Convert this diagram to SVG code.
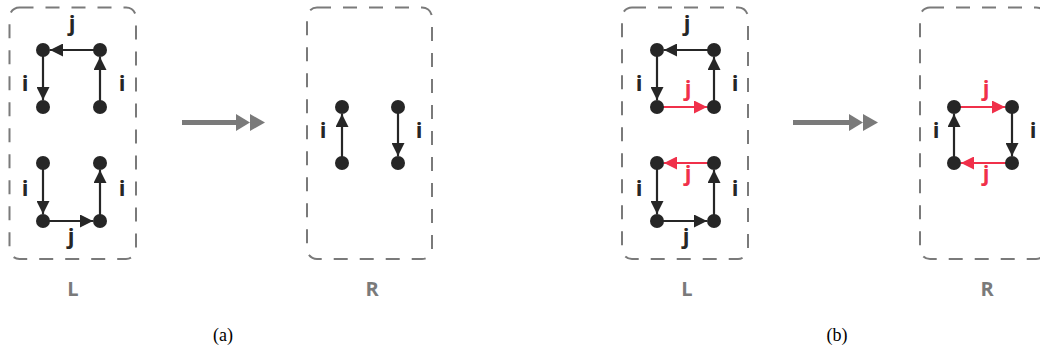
<svg xmlns="http://www.w3.org/2000/svg" width="1040" height="348" viewBox="0 0 1040 348">
<style>
.box{fill:none;stroke:#7a7a7a;stroke-width:2;stroke-dasharray:14 12}
.e{stroke:#262626;stroke-width:2.2;fill:none;marker-end:url(#ah)}
.r{stroke:#f0304a;stroke-width:2.2;fill:none;marker-end:url(#ahr)}
.n{fill:#262626}
.lb{font-family:"Open Sans","DejaVu Sans",sans-serif;font-weight:bold;font-size:22px;fill:#262626;text-anchor:middle}
.lbr{fill:#f0304a}
.side{font-family:"Open Sans","DejaVu Sans",sans-serif;font-weight:bold;font-size:20px;fill:#7a7a7a;text-anchor:middle}
.cap{font-family:"Liberation Serif",serif;font-size:18px;fill:#000;text-anchor:middle}
.big{stroke:#7a7a7a;stroke-width:5}
.bh{fill:#7a7a7a}
</style>
<defs>
<marker id="ah" markerUnits="userSpaceOnUse" markerWidth="13" markerHeight="13" refX="13" refY="6.5" orient="auto"><path d="M0,0 L13,6.5 L0,13 z" fill="#262626"/></marker>
<marker id="ahr" markerUnits="userSpaceOnUse" markerWidth="13" markerHeight="13" refX="13" refY="6.5" orient="auto"><path d="M0,0 L13,6.5 L0,13 z" fill="#f0304a"/></marker>
</defs>
<g id="connectors">
<line class="e" x1="100" y1="50" x2="50" y2="50"/>
<line class="e" x1="43" y1="50" x2="43" y2="100"/>
<line class="e" x1="100" y1="107" x2="100" y2="57"/>
<line class="e" x1="43" y1="163" x2="43" y2="214"/>
<line class="e" x1="43" y1="221" x2="93" y2="221"/>
<line class="e" x1="100" y1="221" x2="100" y2="170"/>
<line class="e" x1="342" y1="163" x2="342" y2="114"/>
<line class="e" x1="398" y1="107" x2="398" y2="156"/>
<line class="e" x1="714" y1="50" x2="664" y2="50"/>
<line class="e" x1="657" y1="50" x2="657" y2="100"/>
<line class="e" x1="714" y1="107" x2="714" y2="57"/>
<line class="r" x1="657" y1="107" x2="707" y2="107"/>
<line class="r" x1="714" y1="163" x2="664" y2="163"/>
<line class="e" x1="657" y1="163" x2="657" y2="214"/>
<line class="e" x1="657" y1="221" x2="707" y2="221"/>
<line class="e" x1="714" y1="221" x2="714" y2="170"/>
<line class="r" x1="954" y1="107" x2="1005" y2="107"/>
<line class="e" x1="1012" y1="107" x2="1012" y2="156"/>
<line class="r" x1="1012" y1="163" x2="961" y2="163"/>
<line class="e" x1="954" y1="163" x2="954" y2="114"/>
<line class="big" x1="182" y1="122.5" x2="240" y2="122.5"/>
<polygon class="bh" points="236,114 250,122.5 236,131"/>
<polygon class="bh" points="250,114 265,122.5 250,131"/>
<line class="big" x1="793" y1="122.5" x2="852" y2="122.5"/>
<polygon class="bh" points="849,114 863,122.5 849,131"/>
<polygon class="bh" points="863,114 878,122.5 863,131"/>
</g>
<g id="a-L">
<rect class="box" x="9.5" y="7.5" width="126.5" height="251.5" rx="10"/>
<circle class="n" cx="43" cy="50" r="7"/><circle class="n" cx="100" cy="50" r="7"/>
<circle class="n" cx="43" cy="107" r="7"/><circle class="n" cx="100" cy="107" r="7"/>
<circle class="n" cx="43" cy="163" r="7"/><circle class="n" cx="100" cy="163" r="7"/>
<circle class="n" cx="43" cy="221" r="7"/><circle class="n" cx="100" cy="221" r="7"/>
<text class="lb" x="72" y="31">j</text>
<text class="lb" x="25" y="91">i</text><text class="lb" x="122" y="91">i</text>
<text class="lb" x="25" y="196">i</text><text class="lb" x="122" y="196">i</text>
<text class="lb" x="71" y="244">j</text>
<text class="side" x="73" y="296">L</text>
</g>
<g id="a-R">
<rect class="box" x="307" y="7.5" width="125" height="251.5" rx="10"/>
<circle class="n" cx="342" cy="107" r="7"/><circle class="n" cx="342" cy="163" r="7"/>
<circle class="n" cx="398" cy="107" r="7"/><circle class="n" cx="398" cy="163" r="7"/>
<text class="lb" x="323" y="138">i</text><text class="lb" x="419" y="138">i</text>
<text class="side" x="372" y="296">R</text>
</g>
<g id="b-L">
<rect class="box" x="622" y="7.5" width="126" height="251.5" rx="10"/>
<circle class="n" cx="657" cy="50" r="7"/><circle class="n" cx="714" cy="50" r="7"/>
<circle class="n" cx="657" cy="107" r="7"/><circle class="n" cx="714" cy="107" r="7"/>
<circle class="n" cx="657" cy="163" r="7"/><circle class="n" cx="714" cy="163" r="7"/>
<circle class="n" cx="657" cy="221" r="7"/><circle class="n" cx="714" cy="221" r="7"/>
<text class="lb" x="687" y="31">j</text>
<text class="lb" x="639" y="91">i</text><text class="lb" x="735" y="91">i</text>
<text class="lb lbr" x="688" y="96">j</text>
<text class="lb lbr" x="688" y="181">j</text>
<text class="lb" x="639" y="196">i</text><text class="lb" x="735" y="196">i</text>
<text class="lb" x="686" y="244">j</text>
<text class="side" x="687" y="296">L</text>
</g>
<g id="b-R">
<rect class="box" x="920" y="7.5" width="126" height="251.5" rx="10"/>
<circle class="n" cx="954" cy="107" r="7"/><circle class="n" cx="1012" cy="107" r="7"/>
<circle class="n" cx="954" cy="163" r="7"/><circle class="n" cx="1012" cy="163" r="7"/>
<text class="lb" x="936" y="138">i</text><text class="lb" x="1033" y="138">i</text>
<text class="lb lbr" x="986" y="96">j</text>
<text class="lb lbr" x="986" y="181">j</text>
<text class="side" x="987" y="296">R</text>
</g>
<g id="captions">
<text class="cap" x="223" y="341">(a)</text>
<text class="cap" x="837" y="341">(b)</text>
</g>
</svg>
